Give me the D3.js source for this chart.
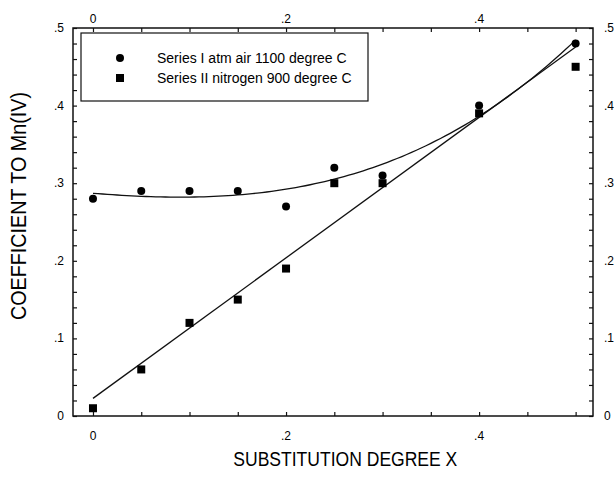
<!DOCTYPE html>
<meta charset="utf-8">
<script src="https://d3js.org/d3.v7.js"></script>
<style>
  body { margin: 0; background: #fff; }
  text { font-family: "Liberation Sans", Arial, sans-serif; fill: #000; }
</style>
<div id="chart"></div>

<script>

var xVals = [0, 0.05, 0.1, 0.15, 0.2, 0.25, 0.3, 0.4, 0.5];
var series1 = [0.28, 0.29, 0.29, 0.29, 0.27, 0.32, 0.31, 0.40, 0.48];
var series2 = [0.01, 0.06, 0.12, 0.15, 0.19, 0.30, 0.30, 0.39, 0.45];
var seriesNames = ["Series I atm air 1100 degree C", "Series II nitrogen 900 degree C"];
var xTicks = [0, 0.2, 0.4];
var yTicks = [0, 0.1, 0.2, 0.3, 0.4, 0.5];

var margin = {top: 28, left: 73},
    width = 520,
    height = 388;

var svg = d3.select("#chart")
  .append("svg")
    .attr("width", 614)
    .attr("height", 487)
  .append("g")
    .attr("transform", "translate(" + margin.left + "," + margin.top + ")");

var x = d3.scaleLinear().domain([-0.0207, 0.518]).range([0, width]);
var y = d3.scaleLinear().domain([0, 0.5]).range([height, 0]);

function fmt(d) { return d === 0 ? "0" : d3.format(".1f")(d).replace(/^0/, ""); }

// least squares polynomial fit
function polyfit(xs, ys, deg) {
  var n = deg + 1, A = [], i, j, k;
  for (i = 0; i < n; i++) {
    A.push([]);
    for (j = 0; j <= n; j++) A[i].push(0);
  }
  xs.forEach(function(xv, p) {
    for (i = 0; i < n; i++) {
      for (j = 0; j < n; j++) A[i][j] += Math.pow(xv, i + j);
      A[i][n] += ys[p] * Math.pow(xv, i);
    }
  });
  for (i = 0; i < n; i++) {
    for (k = i + 1; k < n; k++) {
      var f = A[k][i] / A[i][i];
      for (j = i; j <= n; j++) A[k][j] -= f * A[i][j];
    }
  }
  var c = new Array(n).fill(0);
  for (i = n - 1; i >= 0; i--) {
    var s = A[i][n];
    for (j = i + 1; j < n; j++) s -= A[i][j] * c[j];
    c[i] = s / A[i][i];
  }
  return function(t) { return c.reduce(function(a, cc, p) { return a + cc * Math.pow(t, p); }, 0); };
}

var fit1 = polyfit(xVals, series1, 3);
var fit2 = polyfit(xVals, series2, 1);

// axes, ticks inward
var minorX = d3.range(0, 0.51, 0.05);
var minorY = d3.range(0, 0.501, 0.02);

svg.append("g").attr("transform", "translate(0," + height + ")")
  .call(d3.axisTop(x).tickValues(minorX).tickSize(4).tickFormat(""));
svg.append("g")
  .call(d3.axisBottom(x).tickValues(minorX).tickSize(4).tickFormat(""));
svg.append("g")
  .call(d3.axisRight(y).tickValues(minorY).tickSize(4).tickFormat(""));
svg.append("g").attr("transform", "translate(" + width + ",0)")
  .call(d3.axisLeft(y).tickValues(minorY).tickSize(4).tickFormat(""));

svg.selectAll(".domain").remove();
svg.selectAll(".tick line").attr("stroke", "#111").attr("stroke-width", 1.2);

svg.append("rect")
  .attr("width", width).attr("height", height)
  .attr("fill", "none").attr("stroke", "#111").attr("stroke-width", 1.5);

// tick labels
svg.selectAll(".xb").data(xTicks).enter().append("text")
  .attr("x", function(d) { return x(d); }).attr("y", height + 24)
  .attr("text-anchor", "middle").attr("font-size", 12).text(fmt);
svg.selectAll(".xt").data(xTicks).enter().append("text")
  .attr("x", function(d) { return x(d); }).attr("y", -5)
  .attr("text-anchor", "middle").attr("font-size", 12).text(fmt);
svg.selectAll(".yl").data(yTicks).enter().append("text")
  .attr("x", -9).attr("y", function(d) { return y(d) + 4; })
  .attr("text-anchor", "end").attr("font-size", 12).text(fmt);
svg.selectAll(".yr").data(yTicks).enter().append("text")
  .attr("x", width + 11).attr("y", function(d) { return y(d) + 4; })
  .attr("text-anchor", "start").attr("font-size", 12).text(fmt);

// axis titles
svg.append("text")
  .attr("transform", "translate(" + (x(0.25) + 11) + "," + (height + 50) + ") scale(1,1.15)")
  .attr("text-anchor", "middle").attr("font-size", 17)
  .attr("textLength", 224).attr("lengthAdjust", "spacingAndGlyphs")
  .text("SUBSTITUTION DEGREE X");
svg.append("text")
  .attr("transform", "translate(-47," + (y(0.25) - 16) + ") rotate(-90) scale(1,1.2)")
  .attr("text-anchor", "middle").attr("font-size", 19)
  .attr("textLength", 228).attr("lengthAdjust", "spacingAndGlyphs")
  .text("COEFFICIENT TO Mn(IV)");

// fit curves
var xs = d3.range(0, 0.5001, 0.005);
var line = d3.line().x(function(d) { return x(d[0]); }).y(function(d) { return y(d[1]); });
svg.append("path")
  .attr("d", line(xs.map(function(t) { return [t, fit1(t)]; })))
  .attr("fill", "none").attr("stroke", "#111").attr("stroke-width", 1.3);
svg.append("path")
  .attr("d", line([[0, fit2(0)], [0.5, fit2(0.5)]]))
  .attr("fill", "none").attr("stroke", "#111").attr("stroke-width", 1.3);

// points
svg.selectAll(".p1").data(xVals).enter().append("circle")
  .attr("cx", function(d) { return x(d); })
  .attr("cy", function(d, i) { return y(series1[i]); })
  .attr("r", 4).attr("fill", "#000");
svg.selectAll(".p2").data(xVals).enter().append("rect")
  .attr("x", function(d) { return x(d) - 4; })
  .attr("y", function(d, i) { return y(series2[i]) - 4; })
  .attr("width", 8).attr("height", 8).attr("fill", "#000");

// legend
var leg = svg.append("g").attr("transform", "translate(8,5)");
leg.append("rect").attr("width", 287).attr("height", 68)
  .attr("fill", "#fff").attr("stroke", "#111").attr("stroke-width", 1.2);
leg.append("circle").attr("cx", 39).attr("cy", 25).attr("r", 4).attr("fill", "#000");
leg.append("rect").attr("x", 35).attr("y", 41).attr("width", 8).attr("height", 8).attr("fill", "#000");
leg.selectAll(".lt").data(seriesNames).enter().append("text")
  .attr("x", 76).attr("y", function(d, i) { return 30 + i * 20; })
  .attr("font-size", 14).text(function(d) { return d; });

</script>
